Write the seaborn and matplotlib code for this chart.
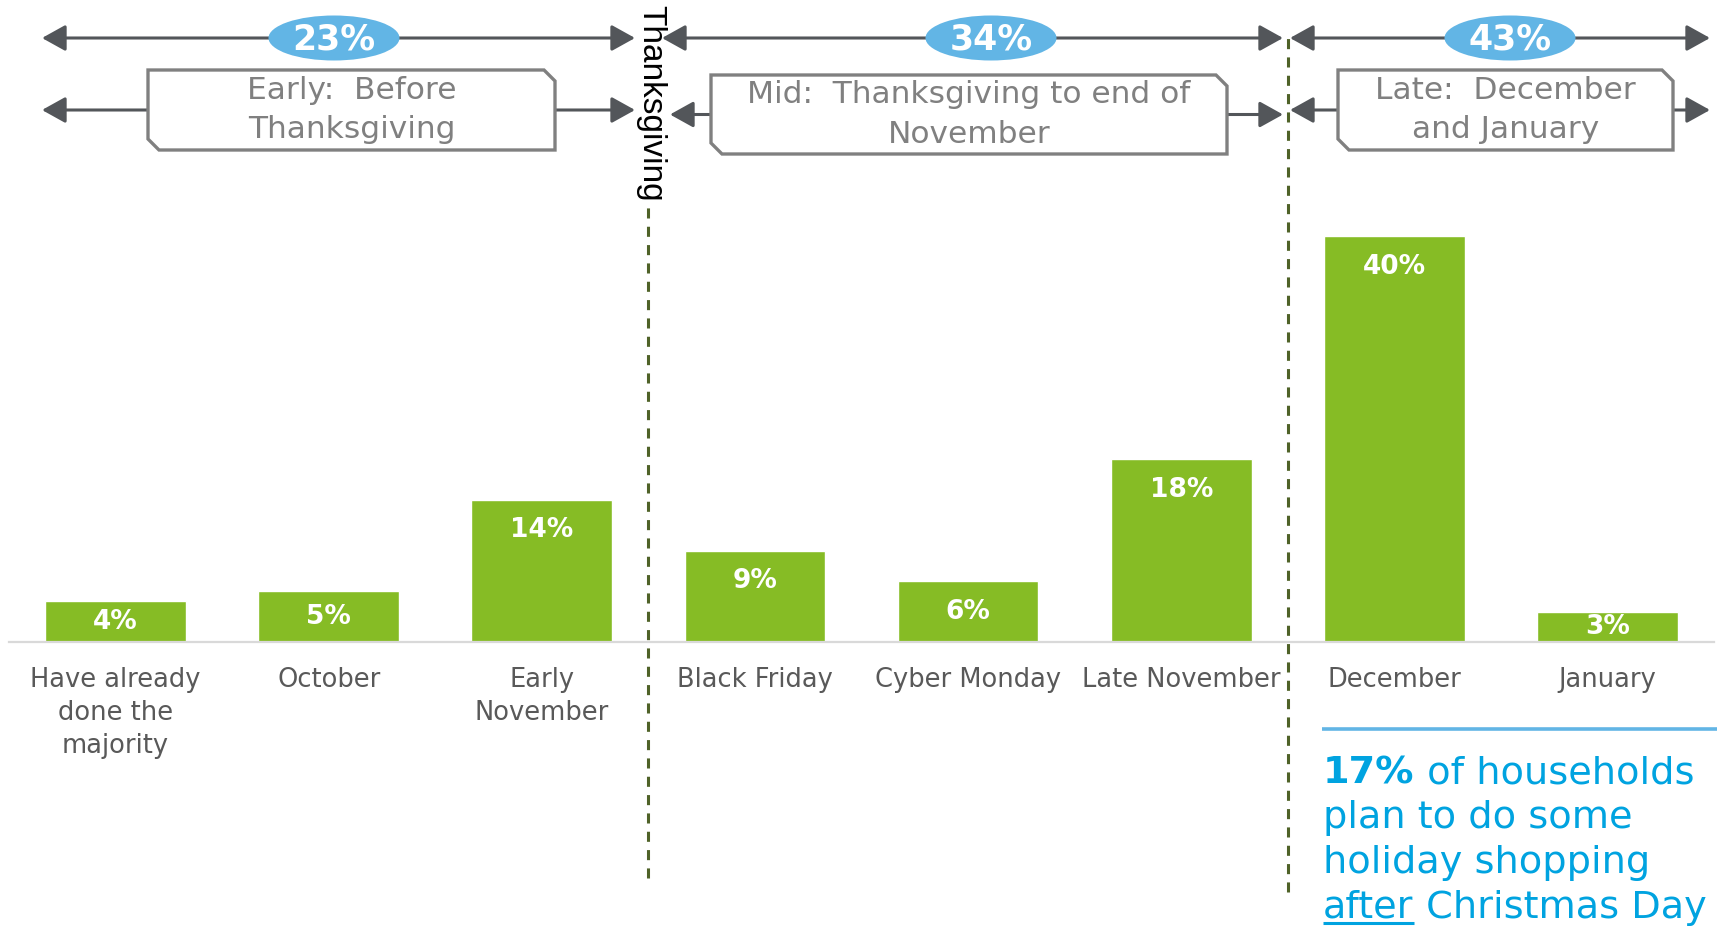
import numpy as np
import pandas as pd
import matplotlib
matplotlib.use("Agg")
import matplotlib.pyplot as plt
import seaborn as sns
from matplotlib.patches import Ellipse, Polygon

# ---- data ----
categories = ["Have already\ndone the\nmajority", "October", "Early\nNovember",
              "Black Friday", "Cyber Monday", "Late November", "December", "January"]
shares = [4, 5, 14, 9, 6, 18, 40, 3]

period_names = ["Early:  Before\nThanksgiving",
                "Mid:  Thanksgiving to end of\nNovember",
                "Late:  December\nand January"]
period_shares = [23, 34, 43]

note_bold = "17%"
note_lines = [" of households", "plan to do some", "holiday shopping", " Christmas Day"]
note_underlined = "after"

# ---- style ----
GREEN = "#86BC25"
ARROW = "#53565A"
BOX = "#808080"
OVAL = "#62B5E5"
NOTE = "#00A3E0"
DASH = "#4F6228"
TICK_TXT = "#595959"
AXIS = "#D9D9D9"

sns.set_theme(style="white")
plt.rcParams["font.family"] = ["DejaVu Sans"]

W, H = 1717, 926
fig = plt.figure(figsize=(W / 100, H / 100), dpi=100)
fig.patch.set_facecolor("white")

# main bar axes: baseline at y=642 px, 1% = ~10.14 px
base_px = 642
px_per_pct = 10.14
ax = fig.add_axes([9 / W, (H - base_px) / H, 1705 / W, base_px / H])
ax.patch.set_visible(False)

df = pd.DataFrame({"when": categories, "share": shares})
sns.barplot(data=df, x="when", y="share", color=GREEN, saturation=1,
            width=0.66, ax=ax, zorder=2)
ax.set_xlim(-0.5, len(categories) - 0.5)
ax.set_ylim(0, base_px / px_per_pct)
ax.set_xlabel("")
ax.set_ylabel("")
ax.set_yticks([])
for side in ["left", "right", "top"]:
    ax.spines[side].set_visible(False)
ax.spines["bottom"].set_color(AXIS)
ax.spines["bottom"].set_linewidth(1.6)
ax.tick_params(axis="x", which="major", length=0, pad=18, labelsize=18.5,
               labelcolor=TICK_TXT)
ax.set_xticks(np.arange(-0.5, len(categories), 1), minor=True)
ax.tick_params(axis="x", which="minor", length=7, width=1.4, color=AXIS,
               direction="out")
for lbl in ax.get_xticklabels():
    lbl.set_linespacing(1.36)

# value labels inside the bars
for p, v in zip(ax.patches, shares):
    cx = p.get_x() + p.get_width() / 2
    y = v - min(3.0, v / 2)
    ax.text(cx, y, f"{v}%", ha="center", va="center", color="white",
            fontweight="bold", fontsize=19, zorder=3)

# period separators
dash = (0, (3.3, 2.7))
ax.axvline(2.5, ymin=(base_px - 878) / base_px, ymax=(base_px - 203) / base_px,
           color=DASH, lw=2.2, ls=dash, clip_on=False, zorder=1)
ax.axvline(5.5, ymin=(base_px - 892) / base_px, ymax=(base_px - 31) / base_px,
           color=DASH, lw=2.2, ls=dash, clip_on=False, zorder=1)

# ---- header overlay in pixel coordinates ----
ov = fig.add_axes([0, 0, 1, 1])
ov.set_xlim(0, W)
ov.set_ylim(H, 0)
ov.axis("off")
ov.patch.set_visible(False)

def arrow(x_from, x_to, y, style="-|>"):
    ov.annotate("", xy=(x_to, y), xytext=(x_from, y),
                arrowprops=dict(arrowstyle=style + ",head_length=0.9,head_width=0.5",
                                color=ARROW, lw=2.2, shrinkA=0, shrinkB=0,
                                mutation_scale=16))

spans = [(42, 635), (662, 1283), (1290, 1710)]
oval_x = [334, 991, 1510]
row1_y = 38
for (xl, xr), cx, pct in zip(spans, oval_x, period_shares):
    arrow(xl, xr, row1_y, "<|-|>")
    ov.add_patch(Ellipse((cx, row1_y), 131, 45, facecolor=OVAL,
                         edgecolor="none", zorder=3))
    ov.text(cx, row1_y + 1, f"{pct}%", ha="center", va="center", color="white",
            fontweight="bold", fontsize=25, zorder=4)

boxes = [(148, 555, 70, 150), (711, 1227, 75, 154), (1338, 1673, 70, 150)]
row2_tips = [(42, 635), (670, 1283), (1290, 1710)]
cut = 11
for (x0, x1, y0, y1), (tl, tr), name in zip(boxes, row2_tips, period_names):
    ym = (y0 + y1) / 2
    arrow(x0, tl, ym)
    arrow(x1, tr, ym)
    poly = Polygon([(x0, y0), (x1 - cut, y0), (x1, y0 + cut), (x1, y1),
                    (x0 + cut, y1), (x0, y1 - cut)], closed=True,
                   facecolor="white", edgecolor=BOX, lw=2.4, zorder=3)
    ov.add_patch(poly)
    ov.text((x0 + x1) / 2, ym, name, ha="center", va="center", color=BOX,
            fontsize=22.5, linespacing=1.45, zorder=4)

ov.text(651, 5, "Thanksgiving", rotation=-90, ha="center", va="top",
        fontsize=24, family=["Liberation Sans", "DejaVu Sans"], color="black",
        zorder=4)

# ---- note on late shoppers ----
ov.plot([1322, W], [729, 729], color=OVAL, lw=2.6, solid_capstyle="butt")
nx = 1323
ny = [773, 818, 863, 908]
fs = 27.5
t_bold = ov.text(nx, ny[0], note_bold, ha="left", va="center", color=NOTE,
                 fontsize=fs, fontweight="bold")
ov.annotate(note_lines[0], xy=(1, 0), xycoords=t_bold, ha="left", va="bottom",
            color=NOTE, fontsize=fs)
ov.text(nx, ny[1], note_lines[1], ha="left", va="center", color=NOTE, fontsize=fs)
ov.text(nx, ny[2], note_lines[2], ha="left", va="center", color=NOTE, fontsize=fs)
t_ul = ov.text(nx, ny[3], note_underlined, ha="left", va="center", color=NOTE,
               fontsize=fs)
ov.annotate(note_lines[3], xy=(1, 0), xycoords=t_ul, ha="left", va="bottom",
            color=NOTE, fontsize=fs)

fig.canvas.draw()
bb = t_ul.get_window_extent()
(ux0, _), (ux1, _) = ov.transData.inverted().transform([(bb.x0, 0), (bb.x1, 0)])
ov.plot([ux0, ux1], [923, 923], color=NOTE, lw=2.2, solid_capstyle="butt")

fig.savefig("out.png", dpi=100, facecolor="white")
